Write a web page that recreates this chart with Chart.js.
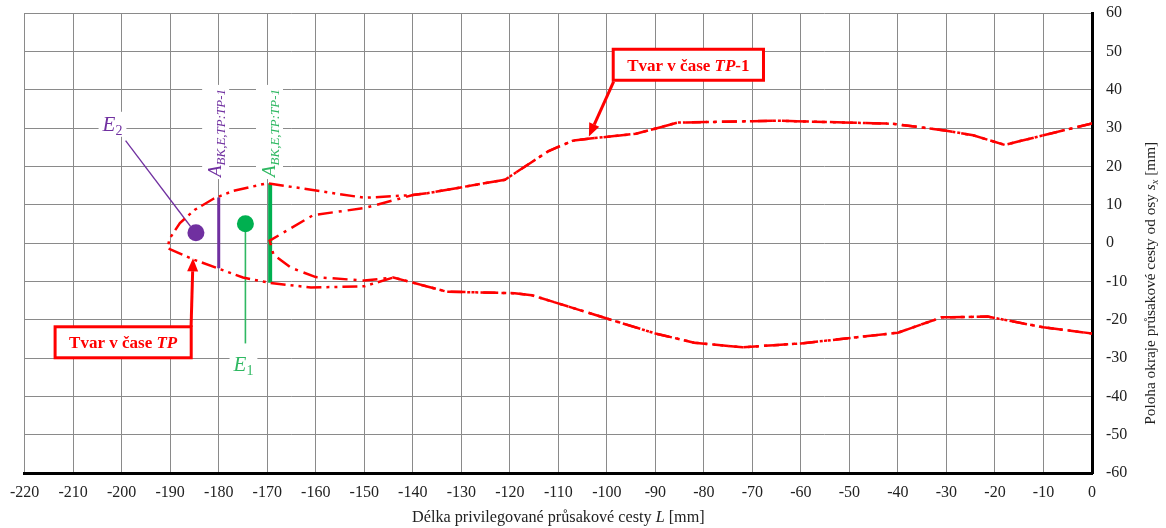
<!DOCTYPE html>
<html>

<head>
  <title>Tvar průsakové cesty</title>
  <script src="https://cdn.jsdelivr.net/npm/chart.js"></script>
  <style>
    html,
    body {
      margin: 0;
      padding: 0;
      background-color: #fff;
    }

    #chartContainer {
      width: 1166px;
      height: 528px;
    }
  </style>
</head>

<body>
  <div id="chartContainer">
    <canvas id="myChart"></canvas>
  </div>

  <script>
    // společná horní větev okraje (zprava doleva)
    const rimTopX = [0, -18, -24.5, -30, -41, -65, -85.5, -89.5, -94, -103, -107, -112, -121, -137, -140];
    const rimTopY = [31.2, 25.6, 28.1, 29.3, 31.1, 31.9, 31.4, 30, 28.5, 27.3, 26.7, 24, 16.5, 13, 12.5];
    // společná dolní větev okraje (zleva doprava)
    const rimBottomX = [-144, -133, -119, -115.5, -100, -90, -82, -72, -60, -40, -31, -21.5, -10, 0];
    const rimBottomY = [-9, -12.7, -13.1, -13.6, -19.7, -23.6, -26, -27.2, -26.2, -23.4, -19.4, -19.2, -22, -23.6];

    // čelo tvaru v čase TP
    const tpNoseX = [-150, -170, -177, -181, -185, -188, -190.2, -190.5, -185, -180, -175, -169.5, -161, -150];
    const tpNoseY = [11.8, 15.6, 13.6, 11.6, 8.6, 5.2, 1, -1.4, -4.4, -6.7, -9, -10.4, -11.6, -11.3];

    // čelo tvaru v čase TP-1
    const tp1NoseX = [-150, -160.5, -169.5, -168.7, -165, -160, -150];
    const tp1NoseY = [9.1, 7.3, 0.6, -3.1, -6.5, -8.9, -9.8];

    // body E2, E1
    const pointX = [-184.7, -174.5];
    const pointY = [2.7, 5.0];

    // úsečky A_BK,E,TP:TP-1
    const barX = [-180, -169.4];
    const barBottom = [-6.6, -10.4];
    const barTop = [11.9, 15.6];

    const serif = '"Liberation Serif", "Times New Roman", serif';
    const red = '#ff0000';
    const purple = '#7030a0';
    const green = '#00b050';
    const lightGreen = '#2fb862';

    function toPoints(xs, ys) {
      return xs.map((x, i) => ({ x: x, y: ys[i] }));
    }

    function shape(noseX, noseY) {
      return toPoints(rimTopX, rimTopY)
        .concat(toPoints(noseX, noseY))
        .concat(toPoints(rimBottomX, rimBottomY));
    }

    // kreslení textu složeného z několika úseků (kurzíva, indexy)
    function runsWidth(ctx, runs) {
      let w = 0;
      for (const r of runs) {
        ctx.font = r.font;
        w += ctx.measureText(r.text).width;
      }
      return w;
    }

    function drawRuns(ctx, runs, x, y, align) {
      const w = runsWidth(ctx, runs);
      let cx = align === 'center' ? x - w / 2 : x;
      ctx.textAlign = 'left';
      ctx.textBaseline = 'alphabetic';
      for (const r of runs) {
        ctx.font = r.font;
        ctx.fillText(r.text, cx, y + (r.dy || 0));
        cx += ctx.measureText(r.text).width;
      }
      return w;
    }

    function arrow(ctx, x0, y0, x1, y1, color) {
      const ang = Math.atan2(y1 - y0, x1 - x0);
      const len = 13, half = 5.5;
      ctx.save();
      ctx.strokeStyle = color;
      ctx.fillStyle = color;
      ctx.lineWidth = 3;
      ctx.beginPath();
      ctx.moveTo(x0, y0);
      ctx.lineTo(x1 - Math.cos(ang) * len, y1 - Math.sin(ang) * len);
      ctx.stroke();
      ctx.beginPath();
      ctx.moveTo(x1, y1);
      ctx.lineTo(x1 - Math.cos(ang) * len - Math.sin(ang) * half, y1 - Math.sin(ang) * len + Math.cos(ang) * half);
      ctx.lineTo(x1 - Math.cos(ang) * len + Math.sin(ang) * half, y1 - Math.sin(ang) * len - Math.cos(ang) * half);
      ctx.closePath();
      ctx.fill();
      ctx.restore();
    }

    function callout(ctx, runs, cx, cy, color) {
      const w = runsWidth(ctx, runs);
      const bw = w + 28, bh = 31;
      ctx.save();
      ctx.fillStyle = '#fff';
      ctx.fillRect(cx - bw / 2, cy - bh / 2, bw, bh);
      ctx.strokeStyle = color;
      ctx.lineWidth = 3;
      ctx.strokeRect(cx - bw / 2, cy - bh / 2, bw, bh);
      ctx.fillStyle = color;
      drawRuns(ctx, runs, cx, cy + 6, 'center');
      ctx.restore();
    }

    function plainLabel(ctx, runs, cx, cy, color) {
      const w = runsWidth(ctx, runs);
      ctx.save();
      ctx.fillStyle = '#fff';
      ctx.fillRect(cx - w / 2 - 4, cy - 12, w + 8, 25);
      ctx.fillStyle = color;
      drawRuns(ctx, runs, cx, cy + 7, 'center');
      ctx.restore();
    }

    function verticalLabel(ctx, runs, bx, by, color) {
      ctx.save();
      const w = runsWidth(ctx, runs);
      ctx.fillStyle = '#fff';
      ctx.fillRect(bx - 19, by - w - 4, 27, w + 6);
      ctx.translate(bx, by);
      ctx.rotate(-Math.PI / 2);
      ctx.fillStyle = color;
      drawRuns(ctx, runs, 0, 0, 'left');
      ctx.restore();
    }

    const annotations = {
      id: 'annotations',
      beforeDatasetsDraw(chart) {
        const ctx = chart.ctx, xs = chart.scales.x, ys = chart.scales.y;
        const px = v => xs.getPixelForValue(v), py = v => ys.getPixelForValue(v);
        ctx.save();
        // vodicí čáry k popiskům E2 a E1
        ctx.lineWidth = 1.3;
        ctx.strokeStyle = purple;
        ctx.beginPath();
        ctx.moveTo(px(-199.2), py(26.7));
        ctx.lineTo(px(-185.8), py(4.3));
        ctx.stroke();
        ctx.lineWidth = 1.6;
        ctx.strokeStyle = lightGreen;
        ctx.beginPath();
        ctx.moveTo(px(-174.5), py(5));
        ctx.lineTo(px(-174.5), py(-26.2));
        ctx.stroke();
        ctx.restore();
      },
      afterDatasetsDraw(chart) {
        const ctx = chart.ctx, xs = chart.scales.x, ys = chart.scales.y;
        const px = v => xs.getPixelForValue(v), py = v => ys.getPixelForValue(v);
        const area = chart.chartArea;

        plainLabel(ctx, [
          { text: 'E', font: 'italic 21px ' + serif },
          { text: '2', font: '14px ' + serif, dy: 4 }
        ], px(-201.9), py(31.1), purple);
        plainLabel(ctx, [
          { text: 'E', font: 'italic 21px ' + serif },
          { text: '1', font: '14px ' + serif, dy: 4 }
        ], px(-174.9), py(-31.6), lightGreen);

        const aRuns = [
          { text: 'A', font: 'italic 19px ' + serif },
          { text: 'BK,E,TP:TP-1', font: 'italic 13px ' + serif, dy: 4 }
        ];
        verticalLabel(ctx, aRuns, px(-179.5), py(17.2), purple);
        verticalLabel(ctx, aRuns, px(-168.4), py(17.2), lightGreen);

        // popisky tvarů se šipkami
        arrow(ctx, px(-185.7), py(-21.9), px(-185.3), py(-4.0), red);
        callout(ctx, [
          { text: 'Tvar v čase ', font: 'bold 17px ' + serif },
          { text: 'TP', font: 'italic bold 17px ' + serif }
        ], px(-199.7), py(-25.9), red);

        arrow(ctx, px(-98.6), py(42.1), px(-103.7), py(27.8), red);
        callout(ctx, [
          { text: 'Tvar v čase ', font: 'bold 17px ' + serif },
          { text: 'TP', font: 'italic bold 17px ' + serif },
          { text: '-1', font: 'bold 17px ' + serif }
        ], px(-83.2), py(46.5), red);

        // názvy os
        ctx.save();
        ctx.fillStyle = '#222';
        drawRuns(ctx, [
          { text: 'Délka privilegované průsakové cesty ', font: '16.2px ' + serif },
          { text: 'L', font: 'italic 16.2px ' + serif },
          { text: ' [mm]', font: '16.2px ' + serif }
        ], (area.left + area.right) / 2, 522, 'center');
        ctx.translate(area.right + 63, py(-10.5));
        ctx.rotate(-Math.PI / 2);
        drawRuns(ctx, [
          { text: 'Poloha okraje průsakové cesty od osy ', font: '15.3px ' + serif },
          { text: 's', font: 'italic 15.3px ' + serif },
          { text: 'x', font: 'italic 10.5px ' + serif, dy: 3 },
          { text: ' [mm]', font: '15.3px ' + serif }
        ], 0, 0, 'center');
        ctx.restore();
      }
    };

    const ctx = document.getElementById('myChart').getContext('2d');
    const tickFont = { family: serif, size: 16 };

    new Chart(ctx, {
      type: 'scatter',
      data: {
        datasets: [
          {
            label: 'Tvar v čase TP',
            data: shape(tpNoseX, tpNoseY),
            showLine: true,
            borderColor: red,
            borderWidth: 2.5,
            borderDash: [15, 5, 3, 5, 3, 5],
            pointRadius: 0,
            fill: false
          },
          {
            label: 'Tvar v čase TP-1',
            data: shape(tp1NoseX, tp1NoseY),
            showLine: true,
            borderColor: red,
            borderWidth: 2.5,
            borderDash: [15, 6, 3, 6],
            pointRadius: 0,
            fill: false
          },
          {
            label: 'A E2',
            data: [{ x: barX[0], y: barBottom[0] }, { x: barX[0], y: barTop[0] }],
            showLine: true,
            borderColor: purple,
            borderWidth: 3,
            pointRadius: 0
          },
          {
            label: 'A E1',
            data: [{ x: barX[1], y: barBottom[1] }, { x: barX[1], y: barTop[1] }],
            showLine: true,
            borderColor: green,
            borderWidth: 4,
            pointRadius: 0
          },
          {
            label: 'E2',
            data: [{ x: pointX[0], y: pointY[0] }],
            pointRadius: 8.5,
            pointBackgroundColor: purple,
            pointBorderWidth: 0
          },
          {
            label: 'E1',
            data: [{ x: pointX[1], y: pointY[1] }],
            pointRadius: 8.5,
            pointBackgroundColor: green,
            pointBorderWidth: 0
          }
        ]
      },
      options: {
        responsive: true,
        maintainAspectRatio: false,
        animation: false,
        layout: {
          padding: { left: 24, top: 13, right: 0, bottom: 0 }
        },
        plugins: {
          legend: { display: false },
          tooltip: { enabled: false }
        },
        scales: {
          x: {
            type: 'linear',
            min: -220,
            max: 0,
            ticks: { stepSize: 10, font: tickFont, color: '#222', padding: 10 },
            grid: { color: '#8a8a8a', drawTicks: false },
            border: { color: '#000', width: 3 },
            afterFit(scale) {
              scale.height = 55;
              scale.paddingRight = 0;
            }
          },
          y: {
            position: 'right',
            min: -60,
            max: 60,
            ticks: { stepSize: 10, font: tickFont, color: '#222', padding: 14 },
            grid: { color: '#8a8a8a', drawTicks: false },
            border: { color: '#000', width: 3 },
            afterFit(scale) {
              scale.width = 74;
              scale.paddingTop = 10;
              scale.paddingBottom = 0;
            }
          }
        }
      },
      plugins: [annotations]
    });
  </script>
</body>

</html>
